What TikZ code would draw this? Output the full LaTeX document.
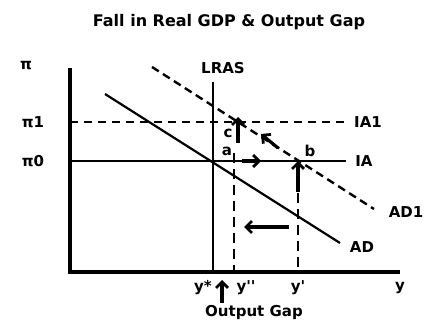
\documentclass[tikz,border=0pt]{standalone}
\usepackage{fontspec}
\setmainfont{DejaVu Sans}
\usetikzlibrary{arrows.meta}
\begin{document}
\begin{tikzpicture}[x=1pt,y=-1pt,
  lbl/.style={font=\bfseries\fontsize{15}{17}\selectfont, inner sep=0pt},
  axis/.style={line width=3.2pt},
  curve/.style={line width=2.2pt},
  dashcurve/.style={line width=2.4pt, dash pattern=on 8pt off 5pt},
  vdash/.style={line width=2.6pt, dash pattern=on 10pt off 6pt},
  move/.style={line width=3.2pt, -{Straight Barb[length=6pt,width=12pt,line width=2.8pt]}}]
\useasboundingbox (0,0) rectangle (427,320);
% title
\node[font=\bfseries\fontsize{16}{19}\selectfont, inner sep=0pt] (title) at (229,22) {Fall in Real GDP \& Output Gap};
% axes
\coordinate (O) at (70,272);
\coordinate (ytop) at (70,68);
\coordinate (xend) at (400,272);
\draw[axis] (ytop) -- (O) -- (xend);
% IA lines
\coordinate (p1l) at (70,122); \coordinate (p1r) at (346,122);
\coordinate (p0l) at (70,161); \coordinate (p0r) at (346,161);
\draw[line width=1.8pt, dash pattern=on 8pt off 6pt] (p1l) -- (p1r);
\draw[line width=1.8pt] (p0l) -- (p0r);
% LRAS
\coordinate (lrtop) at (213,82); \coordinate (lrbot) at (213,272);
\draw[curve] (lrtop) -- (lrbot);
% AD and AD1
\coordinate (ad0) at (105,94); \coordinate (ad1) at (340,243);
\draw[curve] (ad0) -- (ad1);
\coordinate (ae0) at (152,67); \coordinate (ae1) at (374,209);
\draw[dashcurve] (ae0) -- (ae1);
% verticals
\coordinate (ypp) at (234,153); \coordinate (yppb) at (234,272);
\draw[vdash] (ypp) -- (yppb);
\coordinate (yp) at (298,161); \coordinate (ypb) at (298,272);
\draw[vdash] (yp) -- (ypb);
% movement arrows
\coordinate (ab0) at (298,192);
\draw[move] (ab0) -- (yp);
\coordinate (ar0) at (242,161); \coordinate (ar1) at (261,161);
\draw[move] (ar0) -- (ar1);
\coordinate (ul0) at (278,148); \coordinate (ul1) at (261,134);
\draw[move] (ul0) -- (ul1);
\coordinate (c0) at (238,143); \coordinate (c1) at (238,117);
\draw[move] (c0) -- (c1);
\coordinate (l0) at (289,227); \coordinate (l1) at (244,227);
\draw[move] (l0) -- (l1);
\coordinate (g0) at (222,303); \coordinate (g1) at (222,280);
\draw[move] (g0) -- (g1);
% labels
\node[lbl] (pi) at (26,66) {π};
\node[lbl] (pi1) at (33,122) {π1};
\node[lbl] (pi0) at (33,161) {π0};
\node[lbl] (lras) at (223,68) {LRAS};
\node[lbl] (ia1) at (368,122) {IA1};
\node[lbl] (ia) at (364,161) {IA};
\node[lbl] (adl1) at (406,212) {AD1};
\node[lbl] (adl) at (362,247) {AD};
\node[lbl] (la) at (227,151) {a};
\node[lbl] (lb) at (310,151) {b};
\node[lbl] (lc) at (228,133) {c};
\node[lbl] (ys) at (203,288) {y*};
\node[lbl] (ypl) at (246,288) {y\textquotesingle\textquotesingle};
\node[lbl] (ypr) at (298,288) {y\textquotesingle};
\node[lbl] (yl) at (400,288) {y};
\node[lbl] (og) at (254,312) {Output Gap};
\end{tikzpicture}
\end{document}
